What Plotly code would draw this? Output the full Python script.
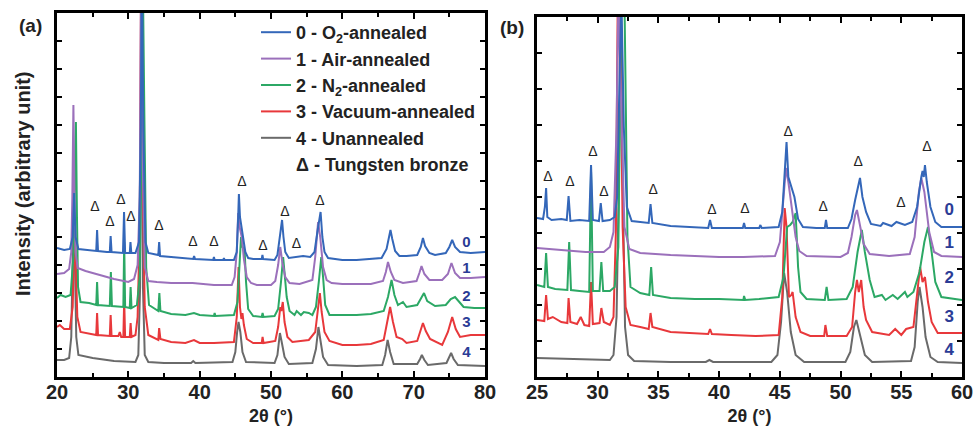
import plotly.graph_objects as go

# ---------------- data ----------------
names = ["0 - O<sub>2</sub>-annealed", "1 - Air-annealed", "2 - N<sub>2</sub>-annealed",
         "3 - Vacuum-annealed", "4 - Unannealed"]
colors = ["#3467b9", "#9b70bb", "#2ca865", "#e8383b", "#6a6a6a"]
tb_label = "Δ - Tungsten bronze"

# panel (a): (2theta, intensity) points, arbitrary offset units
a0 = [(20.0,129),(21.0,127),(21.8,128),(22.2,140),(22.4,184),(22.6,140),(23.0,128),(24.0,127),(25.0,126),(25.5,126),(25.62,147),(25.75,126),(27.0,125),(27.4,125),(27.52,141),(27.65,125),(29.25,124),(29.4,165),(29.55,124),(30.2,124),(30.3,135),(30.42,124),(31.0,124),(31.5,135),(31.75,250),(31.9,420),(32.1,250),(32.4,135),(32.8,124),(34.2,122),(34.32,135),(34.45,121),(36,120),(38,119),(39.1,118),(39.22,121),(39.35,118),(41.9,117),(42.0,120),(42.1,117),(43.3,117),(43.4,119),(43.5,117),(44.8,117),(45.2,125),(45.4,160),(45.5,183),(45.65,160),(45.9,148),(46.1,140),(46.4,125),(46.8,119),(47.5,118),(48.7,118),(48.8,122),(48.9,118),(50.5,117),(50.9,122),(51.2,137),(51.35,145),(51.55,157),(51.75,140),(52.0,125),(52.5,119),(53.5,120),(54.5,121),(55.5,120),(56.1,125),(56.5,145),(56.75,158),(56.95,165),(57.2,140),(57.5,125),(58.0,119),(60,117),(62,117),(64,118),(65.5,119),(66.2,128),(66.5,140),(66.75,147),(67.0,138),(67.4,126),(68,121),(69,121),(70.5,122),(71.0,130),(71.3,139),(71.6,131),(72.2,124),(73,122),(74.5,124),(75.0,130),(75.4,137),(75.8,130),(76.5,125),(78,124),(80,125)]
a1 = [(20,103),(21,104),(21.7,108),(22.0,125),(22.15,180),(22.3,272),(22.45,180),(22.6,125),(22.9,109),(24,106),(26,102),(28,98),(30,95),(30.8,98),(31.3,112),(31.6,180),(31.8,420),(32.0,220),(32.3,110),(32.8,96),(34,95),(36,94),(39,94),(42,92),(44.5,92),(44.9,100),(45.2,125),(45.4,164),(45.6,150),(45.9,140),(46.2,118),(46.6,100),(47.2,94),(48,92),(50,92),(50.6,96),(51.0,112),(51.3,130),(51.6,114),(52.0,100),(52.6,94),(54,93),(55.8,97),(56.2,120),(56.6,155),(56.9,140),(57.3,110),(57.8,97),(58.5,94),(60,93),(64,93),(65.7,96),(66.1,105),(66.4,115),(66.8,105),(67.3,97),(68.5,94),(70.4,96),(70.8,104),(71.1,111),(71.5,103),(72.2,97),(74,97),(74.8,103),(75.3,114),(75.8,104),(76.5,99),(78,99),(80,100)]
a2 = [(20,79),(20.5,82),(21.2,80),(21.9,82),(22.3,120),(22.55,200),(22.65,255),(22.8,160),(22.95,90),(23.3,75),(24.5,74),(25.5,72),(25.62,95),(25.75,72),(27.4,71),(27.55,105),(27.7,71),(29.3,70),(29.42,135),(29.55,70),(30.2,69),(30.32,90),(30.45,69),(31.2,72),(31.6,100),(31.85,250),(32.0,420),(32.25,260),(32.5,110),(32.9,72),(34.2,66),(34.35,84),(34.5,66),(36,63),(38,62),(39.2,64),(40,62),(42,61),(42.1,64),(42.2,61),(44.8,62),(45.3,75),(45.6,110),(45.8,140),(46.0,130),(46.3,127),(46.5,95),(46.8,68),(47.5,61),(48.7,60),(48.82,64),(48.95,60),(50.5,61),(51.0,68),(51.4,95),(51.7,120),(51.95,100),(52.2,80),(52.6,66),(53.3,62),(53.6,66),(54.2,62),(54.6,65),(55.3,64),(55.8,62),(56.3,70),(56.7,95),(57.05,120),(57.3,100),(57.6,72),(58.2,62),(60,62),(62,62),(64,63),(65.8,66),(66.4,80),(66.9,97),(67.3,82),(67.8,72),(68.5,75),(69,70),(70.5,72),(71.0,78),(71.45,84),(71.9,76),(73,71),(74.5,72),(75.2,78),(75.8,80),(76.3,76),(77,70),(78.5,69),(80,69)]
a3 = [(20,50),(20.4,52),(21.0,48),(21.8,48),(22.2,70),(22.4,130),(22.5,160),(22.65,110),(22.85,60),(23.3,45),(24.5,43),(25.5,42),(25.62,64),(25.75,42),(27.4,41),(27.52,62),(27.65,41),(28.6,41),(28.8,45),(29.0,40),(29.3,40),(29.42,77),(29.55,40),(30.2,40),(30.32,54),(30.45,40),(31.0,42),(31.3,60),(31.6,150),(31.8,420),(32.0,200),(32.3,70),(32.8,42),(34.2,37),(34.32,49),(34.5,38),(36,35),(38,34),(39.2,37),(40,34),(42,34),(44.8,35),(45.2,60),(45.45,110),(45.65,70),(45.85,58),(46.0,64),(46.2,52),(46.6,38),(47.5,34),(48.7,34),(48.82,40),(48.95,34),(50.6,36),(51.0,50),(51.3,70),(51.45,66),(51.65,75),(51.9,55),(52.3,40),(53,35),(54,36),(55.3,37),(56.2,45),(56.6,70),(56.85,84),(57.1,65),(57.5,45),(58.2,36),(60,32),(62,32),(64,33),(65.8,37),(66.3,55),(66.7,70),(67.1,55),(67.6,40),(68.4,38),(69,34),(70.5,36),(71.0,46),(71.3,54),(71.7,46),(72.3,38),(74,32),(74.8,45),(75.4,60),(75.9,48),(76.5,40),(78,42),(80,42)]
a4 = [(20,17),(21,17),(21.7,19),(22.0,40),(22.2,120),(22.35,200),(22.5,120),(22.7,40),(23.0,22),(25,19),(28,16),(31,15),(31.4,22),(31.65,90),(31.85,420),(32.05,90),(32.3,22),(32.8,15),(35,14),(38.8,14),(39.1,16),(39.4,14),(44.6,15),(45.0,25),(45.25,45),(45.45,55),(45.7,45),(46.0,25),(46.5,15),(50.5,14),(50.9,22),(51.25,44),(51.5,35),(51.9,20),(52.5,13),(55.8,14),(56.3,28),(56.65,50),(56.9,38),(57.3,20),(58,12),(62,11),(65.6,12),(66.0,22),(66.35,37),(66.7,25),(67.2,13),(70.5,13),(70.9,18),(71.15,22),(71.5,17),(72,12),(74.6,14),(75.0,20),(75.25,24),(75.6,18),(76.2,12),(80,11)]

# panel (b)
b0 = [(25.0,159),(25.5,158),(25.65,170),(25.75,189),(25.85,160),(26.2,157),(27.0,158),(27.45,157),(27.6,181),(27.75,156),(28.5,157),(29.3,156),(29.45,212),(29.6,157),(30.1,156),(30.25,174),(30.4,156),(31.0,157),(31.4,160),(31.6,180),(31.8,300),(31.95,380),(32.15,250),(32.4,170),(32.8,156),(33.5,155),(34.2,154),(34.35,173),(34.5,154),(36,151),(38,150),(39.1,149),(39.25,157),(39.4,149),(41,149),(41.95,149),(42.05,154),(42.15,149),(43.3,149),(43.4,152),(43.5,149),(44.9,150),(45.2,165),(45.4,200),(45.55,235),(45.7,200),(45.95,190),(46.2,180),(46.5,158),(46.9,150),(48,149),(48.7,149),(48.8,157),(48.9,149),(50.6,149),(50.9,158),(51.2,177),(51.45,190),(51.6,199),(51.8,180),(52.1,165),(52.5,153),(53.3,151),(53.5,154),(54.2,151),(54.6,155),(55.3,152),(55.9,155),(56.3,170),(56.65,200),(56.75,206),(56.85,200),(56.95,212),(57.1,195),(57.4,170),(57.8,155),(58.3,150),(60,150)]
b1 = [(25,129),(27,127),(29,125),(30.5,125),(31.0,130),(31.3,145),(31.55,250),(31.7,380),(31.95,250),(32.2,150),(32.6,128),(33.5,124),(36,122),(38,121),(40,120),(42,120),(44.6,121),(45.0,135),(45.3,185),(45.5,209),(45.7,195),(46.0,165),(46.3,140),(46.6,126),(47.2,121),(50,120),(50.6,124),(50.9,140),(51.2,162),(51.35,167),(51.6,150),(51.9,133),(52.4,123),(54,121),(55.7,123),(56.1,140),(56.45,185),(56.65,199),(56.9,185),(57.3,145),(57.7,125),(58.3,121),(60,120)]
b2 = [(25.0,92),(25.6,90),(25.75,124),(25.9,90),(26.5,88),(27.5,87),(27.65,135),(27.8,87),(28.5,86),(29.3,85),(29.45,205),(29.6,86),(30.15,86),(30.3,115),(30.45,86),(31.0,86),(31.4,90),(31.7,130),(31.95,380),(32.2,380),(32.45,140),(32.7,90),(33.5,84),(34.25,82),(34.4,110),(34.55,82),(36,79),(38,78),(40,78),(42,77),(42.05,81),(42.15,77),(43.3,78),(44.9,80),(45.3,100),(45.6,150),(45.85,152),(46.05,155),(46.3,164),(46.5,110),(46.7,85),(47.2,78),(48.7,77),(48.85,90),(49.0,77),(50.5,78),(51.0,90),(51.4,125),(51.75,147),(52.0,125),(52.4,97),(52.8,80),(53.4,82),(53.7,77),(54.3,82),(54.7,78),(55.3,85),(55.5,80),(56.0,85),(56.5,105),(56.9,135),(57.2,150),(57.5,125),(57.8,95),(58.3,80),(60,77)]
b3 = [(25.0,57),(25.6,56),(25.75,82),(25.9,58),(26.3,60),(27.0,55),(27.5,54),(27.6,79),(27.75,55),(28.3,53),(28.6,60),(28.9,52),(29.3,51),(29.45,95),(29.6,53),(30.15,54),(30.3,69),(30.5,55),(31.0,52),(31.3,60),(31.5,147),(31.65,380),(31.85,380),(32.05,150),(32.3,70),(32.7,52),(33.5,50),(34.2,48),(34.35,64),(34.5,50),(36,45),(38,44),(39.1,43),(39.25,48),(39.4,43),(41,42),(43,41),(44.9,42),(45.2,80),(45.4,169),(45.55,150),(45.75,80),(45.95,82),(46.05,85),(46.3,60),(46.7,45),(47.5,41),(48.65,41),(48.75,52),(48.9,41),(50.5,41),(50.95,50),(51.2,85),(51.35,97),(51.5,85),(51.7,97),(51.9,70),(52.1,57),(52.6,45),(54,42),(54.5,48),(55.0,42),(55.4,48),(56.0,50),(56.3,80),(56.55,110),(56.75,95),(56.95,100),(57.2,75),(57.5,55),(58,44),(60,44)]
b4 = [(25,19),(28,18),(31,17),(31.3,22),(31.55,60),(31.75,200),(31.9,380),(32.05,200),(32.25,50),(32.5,22),(33,16),(36,15),(38.9,15),(39.2,17),(39.5,15),(44.3,15),(44.8,22),(45.1,55),(45.35,104),(45.6,85),(45.9,45),(46.3,22),(47,15),(50.4,15),(50.8,25),(51.1,50),(51.3,57),(51.6,42),(52,22),(52.6,15),(55.8,16),(56.1,30),(56.35,75),(56.5,90),(56.75,70),(57.0,40),(57.4,20),(58,15),(60,14)]

# tungsten-bronze markers (Δ)
tb_a_x = [25.33, 27.43, 28.97, 30.37, 34.30, 39.07, 42.01, 45.94, 48.88, 51.96, 53.58, 56.87]
tb_a_y = [170, 155, 177, 160, 151, 135, 135, 195, 131, 165, 133, 176]
tb_b_x = [25.91, 27.72, 29.61, 30.52, 34.56, 39.41, 42.13, 45.68, 48.56, 51.44, 54.98, 57.12]
tb_b_y = [200, 195, 225, 185, 187, 167, 168, 245, 170, 215, 174, 230]

# curve number labels
num_text = ["0", "1", "2", "3", "4"]
num_a_x = 77.4
num_a_y = [134, 108, 80, 54, 24]
num_b_x = 58.95
num_b_y = [166, 133, 98, 59, 26]

panel_a = [a0, a1, a2, a3, a4]
panel_b = [b0, b1, b2, b3, b4]

# ---------------- figure ----------------
FONT = "Liberation Sans, Arial, Helvetica, sans-serif"
W, H = 976, 429
L, R, T, B = 57, 14, 13, 52          # plot-area margins in px
PW, PH = W - L - R, H - T - B

def dx(p):   # page x pixel -> plot-area fraction
    return (p - L) / PW

def dy(p):   # page y pixel -> plot-area fraction
    return (H - B - p) / PH

fig = go.Figure()

# legend-only entry for the Δ label (added first: legend is reversed)
fig.add_trace(go.Scatter(x=[20], y=[-50], mode="lines", name=tb_label,
                         line=dict(width=0, color="rgba(0,0,0,0)"),
                         xaxis="x", yaxis="y", showlegend=True, hoverinfo="skip"))

for i in reversed(range(5)):
    fig.add_trace(go.Scatter(x=[p[0] for p in panel_a[i]], y=[p[1] for p in panel_a[i]],
                             mode="lines", name=names[i],
                             line=dict(color=colors[i], width=2),
                             xaxis="x", yaxis="y", showlegend=True))
for i in reversed(range(5)):
    fig.add_trace(go.Scatter(x=[p[0] for p in panel_b[i]], y=[p[1] for p in panel_b[i]],
                             mode="lines", name=names[i],
                             line=dict(color=colors[i], width=2),
                             xaxis="x2", yaxis="y2", showlegend=False))

fig.add_trace(go.Scatter(x=tb_a_x, y=tb_a_y, mode="text", text=["Δ"] * len(tb_a_x),
                         textfont=dict(family=FONT, size=14, color="#222"),
                         xaxis="x", yaxis="y", showlegend=False, hoverinfo="skip"))
fig.add_trace(go.Scatter(x=tb_b_x, y=tb_b_y, mode="text", text=["Δ"] * len(tb_b_x),
                         textfont=dict(family=FONT, size=14, color="#222"),
                         xaxis="x2", yaxis="y2", showlegend=False, hoverinfo="skip"))
fig.add_trace(go.Scatter(x=[num_a_x] * 5, y=num_a_y, mode="text", text=num_text,
                         textfont=dict(family=FONT, size=15, color="#2b3c96", weight="bold"),
                         xaxis="x", yaxis="y", showlegend=False, hoverinfo="skip"))
fig.add_trace(go.Scatter(x=[num_b_x] * 5, y=num_b_y, mode="text", text=num_text,
                         textfont=dict(family=FONT, size=17, color="#2b3c96", weight="bold"),
                         xaxis="x2", yaxis="y2", showlegend=False, hoverinfo="skip"))

axis_common = dict(showline=True, linecolor="black", linewidth=2.5, mirror="ticks",
                   ticks="inside", tickcolor="black", tickwidth=2, showgrid=False,
                   zeroline=False, automargin=False)
tickfont = dict(family=FONT, size=20, color="#222", weight="bold")
titlefont = dict(family=FONT, size=18, color="#222", weight="bold")

fig.update_layout(
    width=W, height=H,
    margin=dict(l=L, r=R, t=T, b=B, autoexpand=False),
    paper_bgcolor="white", plot_bgcolor="white",
    xaxis=dict(domain=[0, dx(485)], range=[20, 80], dtick=10, ticklen=6,
               minor=dict(dtick=5, ticks="inside", ticklen=4, tickcolor="black", tickwidth=2),
               tickfont=tickfont, ticklabelstandoff=-5,
               title=dict(text="2θ (°)", font=titlefont, standoff=8),
               anchor="y", **axis_common),
    yaxis=dict(domain=[0, 1], range=[0, 364], dtick=28, ticklen=5,
               showticklabels=False, anchor="x", **axis_common),
    xaxis2=dict(domain=[dx(537), 1], range=[25, 60], dtick=5, ticklen=6,
                minor=dict(dtick=2.5, ticks="inside", ticklen=4, tickcolor="black", tickwidth=2),
                tickfont=tickfont, ticklabelstandoff=-5,
                title=dict(text="2θ (°)", font=titlefont, standoff=8),
                anchor="y2", **axis_common),
    yaxis2=dict(domain=[0, dy(17)], range=[0, 360], dtick=36, ticklen=5,
                showticklabels=False, anchor="x2", **axis_common),
    legend=dict(x=dx(256), y=dy(14), xanchor="left", yanchor="top",
                traceorder="reversed", bgcolor="rgba(0,0,0,0)",
                font=dict(family=FONT, size=18, color="#222", weight="bold"),
                itemwidth=30),
    showlegend=True,
)

fig.add_annotation(text="Intensity (arbitrary unit)", textangle=-90, xref="paper", yref="paper",
                   x=dx(23), y=dy(184), xanchor="center", yanchor="middle", showarrow=False,
                   font=dict(family=FONT, size=20, color="#222", weight="bold"))
fig.add_annotation(text="(a)", xref="paper", yref="paper", x=dx(30), y=dy(26),
                   xanchor="center", yanchor="middle",
                   showarrow=False, font=dict(family=FONT, size=19, color="#222", weight="bold"))
fig.add_annotation(text="(b)", xref="paper", yref="paper", x=dx(512), y=dy(28),
                   xanchor="center", yanchor="middle",
                   showarrow=False, font=dict(family=FONT, size=19, color="#222", weight="bold"))

fig.write_html("out.html", config={"displayModeBar": False},
               post_script="document.body.style.margin='0';document.body.style.overflow='hidden';")
